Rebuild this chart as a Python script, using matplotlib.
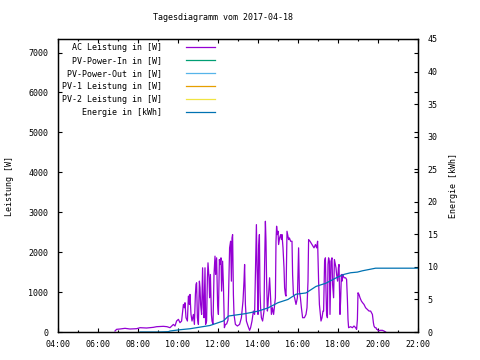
import numpy as np
import matplotlib
matplotlib.use("Agg")
import matplotlib.pyplot as plt
from matplotlib.ticker import MultipleLocator, FuncFormatter

plt.rcParams['font.family'] = ['DejaVu Sans Mono']
plt.rcParams['font.size'] = 6

title = "Tagesdiagramm vom 2017-04-18"

# AC Leistung [W] over time of day (decimal hours)
ac_hours = [6.85, 6.93, 7.10, 7.35, 7.60, 7.93, 8.10, 8.43, 8.77, 8.93, 9.27, 9.45,
            9.60, 9.77, 9.85, 9.93, 10.02, 10.10, 10.18, 10.27, 10.32, 10.35, 10.40, 10.47,
            10.52, 10.57, 10.60, 10.65, 10.70, 10.77, 10.82, 10.87, 10.90, 10.93, 10.97, 11.02,
            11.07, 11.10, 11.13, 11.18, 11.23, 11.27, 11.30, 11.35, 11.38, 11.43, 11.47, 11.50,
            11.55, 11.58, 11.62, 11.67, 11.70, 11.75, 11.80, 11.85, 11.88, 11.93, 11.98, 12.02,
            12.07, 12.10, 12.15, 12.18, 12.23, 12.27, 12.32, 12.37, 12.43, 12.50,
            12.58, 12.63, 12.67, 12.70, 12.73, 12.77, 12.80, 12.87, 12.97, 13.08, 13.17, 13.25,
            13.30, 13.33, 13.37, 13.42, 13.50, 13.58, 13.63, 13.70, 13.77, 13.83, 13.88, 13.92,
            13.95, 13.97, 14.00, 14.03, 14.07, 14.10, 14.13, 14.17, 14.23, 14.30, 14.33, 14.37,
            14.40, 14.43, 14.47, 14.50, 14.58, 14.63, 14.67, 14.72, 14.78, 14.87, 14.90, 14.93,
            14.97, 15.00, 15.03, 15.08, 15.13, 15.17, 15.20, 15.25, 15.30, 15.33, 15.37, 15.40,
            15.45, 15.50, 15.53, 15.57, 15.63, 15.70, 15.73, 15.77, 15.83, 15.90, 15.97, 16.03,
            16.07, 16.12, 16.17, 16.23, 16.32, 16.40, 16.45, 16.50, 16.53, 16.60, 16.70, 16.80,
            16.87, 16.93, 16.98, 17.03, 17.07, 17.12, 17.15, 17.20, 17.25, 17.28, 17.33, 17.37,
            17.40, 17.43, 17.47, 17.50, 17.53, 17.57, 17.60, 17.65, 17.70, 17.73, 17.78, 17.82,
            17.87, 17.90, 17.93, 17.98, 18.02, 18.05, 18.10, 18.13, 18.17, 18.20, 18.23, 18.27,
            18.30, 18.38, 18.43, 18.47, 18.50, 18.53, 18.63, 18.72, 18.80, 18.88, 18.93, 18.97,
            19.00, 19.05, 19.10, 19.17, 19.23, 19.30, 19.38, 19.47, 19.55, 19.63, 19.72, 19.77,
            19.80, 19.85, 19.90, 19.93, 19.97, 20.02, 20.10, 20.22, 20.30, 20.38]
ac_watts = [25, 67, 75, 92, 75, 83, 108, 100, 117, 133, 142, 133,
            108, 190, 150, 275, 317, 233, 275, 690, 608, 733, 358, 275,
            900, 691, 941, 441, 275, 441, 190, 941, 1191, 1233, 358, 190,
            1275, 1108, 691, 441, 1608, 608, 358, 1608, 191, 275, 1358, 1733,
            1358, 858, 1441, 441, 275, 191, 1441, 1900, 1441, 1858, 691, 441,
            1816, 1691, 1858, 1025, 1774, 1191, 108, 191, 200, 300,
            2108, 2274, 1274, 2357, 2440, 941, 441, 191, 150, 191, 358, 775,
            1274, 1691, 691, 275, 150, 42, 108, 275, 525, 441, 1691, 2690,
            1691, 1274, 441, 2108, 2440, 1025, 608, 358, 275, 525, 1691, 2774,
            2274, 1274, 525, 691, 1358, 858, 441, 608, 441, 858, 2274, 2650,
            2440, 2524, 2191, 2357, 2440, 2316, 2440, 2108, 1608, 1108, 941, 900,
            2524, 2400, 2316, 2357, 2274, 2274, 1441, 941, 858, 691, 858, 2108,
            1025, 858, 608, 358, 358, 441, 608, 1274, 2316, 2274, 2191, 2108,
            2191, 2108, 2274, 1274, 691, 441, 275, 358, 525, 525, 1774, 1858,
            1025, 441, 358, 1691, 1858, 1774, 441, 1774, 1858, 1191, 858, 1816,
            1691, 1608, 1441, 1274, 1608, 1691, 441, 775, 1441, 1274, 1441, 1400,
            1358, 1358, 1316, 816, 316, 108, 133, 108, 150, 108, 67, 316,
            983, 941, 858, 775, 733, 691, 608, 566, 525, 525, 441, 233,
            150, 108, 108, 67, 67, 25, 42, 42, 25, 0]

# Energie [kWh]
en_hours = [8.10, 9.00, 9.52, 9.60, 10.10, 10.60, 11.10, 11.60, 12.27, 12.52, 13.33, 14.00,
            14.50, 15.00, 15.50, 15.90, 16.40, 16.90, 17.40, 17.90, 18.30, 18.63, 18.97, 19.22,
            19.55, 19.88, 22.00]
en_kwh = [0.0, 0.0, 0.05, 0.15, 0.35, 0.5, 0.75, 1.0, 1.7, 2.45, 2.8, 3.2,
          3.7, 4.5, 5.0, 5.8, 6.0, 7.0, 7.5, 8.3, 8.85, 9.1, 9.2, 9.4,
          9.6, 9.8, 9.8]

# series without data on this day
empty_hours = []
empty_vals = []

labels = ["AC Leistung in [W]", "PV-Power-In in [W]", "PV-Power-Out in [W]",
          "PV-1 Leistung in [W]", "PV-2 Leistung in [W]", "Energie in [kWh]"]
colors = ["#9400d3", "#009e73", "#56b4e9", "#e69f00", "#f0e442", "#0072b2"]

fig = plt.figure(figsize=(4.8, 3.6), dpi=100)
ax = fig.add_axes([58 / 480, 28 / 360, 360 / 480, 293 / 360])
ax2 = ax.twinx()

lw = 0.9
h = []
h += ax.plot(ac_hours, ac_watts, color=colors[0], lw=lw)
for c in colors[1:5]:
    h += ax.plot(empty_hours, empty_vals, color=c, lw=lw)
h += ax2.plot(en_hours, en_kwh, color=colors[5], lw=lw)

ax.set_xlim(4, 22)
ax.set_ylim(0, 7340)
ax2.set_ylim(0, 45)

ax.xaxis.set_major_locator(MultipleLocator(2))
ax.xaxis.set_minor_locator(MultipleLocator(1))
ax.xaxis.set_major_formatter(FuncFormatter(lambda v, p: "%02d:00" % int(round(v))))
ax.yaxis.set_major_locator(MultipleLocator(1000))
ax2.yaxis.set_major_locator(MultipleLocator(5))

ax.tick_params(axis='x', which='both', direction='in', top=True, pad=6)
ax.tick_params(axis='x', which='major', length=3, width=0.8)
ax.tick_params(axis='x', which='minor', length=1.5, width=0.8)
ax.tick_params(axis='y', direction='in', right=True, length=3, width=0.8, pad=7)
ax2.tick_params(axis='y', direction='in', length=3, width=0.8, pad=7)

for a in (ax, ax2):
    for s in a.spines.values():
        s.set_linewidth(0.9)

ax.set_ylabel("Leistung [W]", labelpad=10)
ax2.set_ylabel("Energie [kWh]", labelpad=8, rotation=90)

fig.text(223 / 480, 1 - 18 / 360, title, ha='center', va='center')

padded = [l.rjust(20) for l in labels]
leg = ax2.legend(h, padded, loc='upper left', bbox_to_anchor=(0.012, 0.985),
                 frameon=False, markerfirst=False, handlelength=3.4,
                 handletextpad=2.9, labelspacing=0.48, borderpad=0, borderaxespad=0,
                 prop={'family': 'DejaVu Sans Mono', 'size': 6})

fig.savefig("out.png", dpi=100)
